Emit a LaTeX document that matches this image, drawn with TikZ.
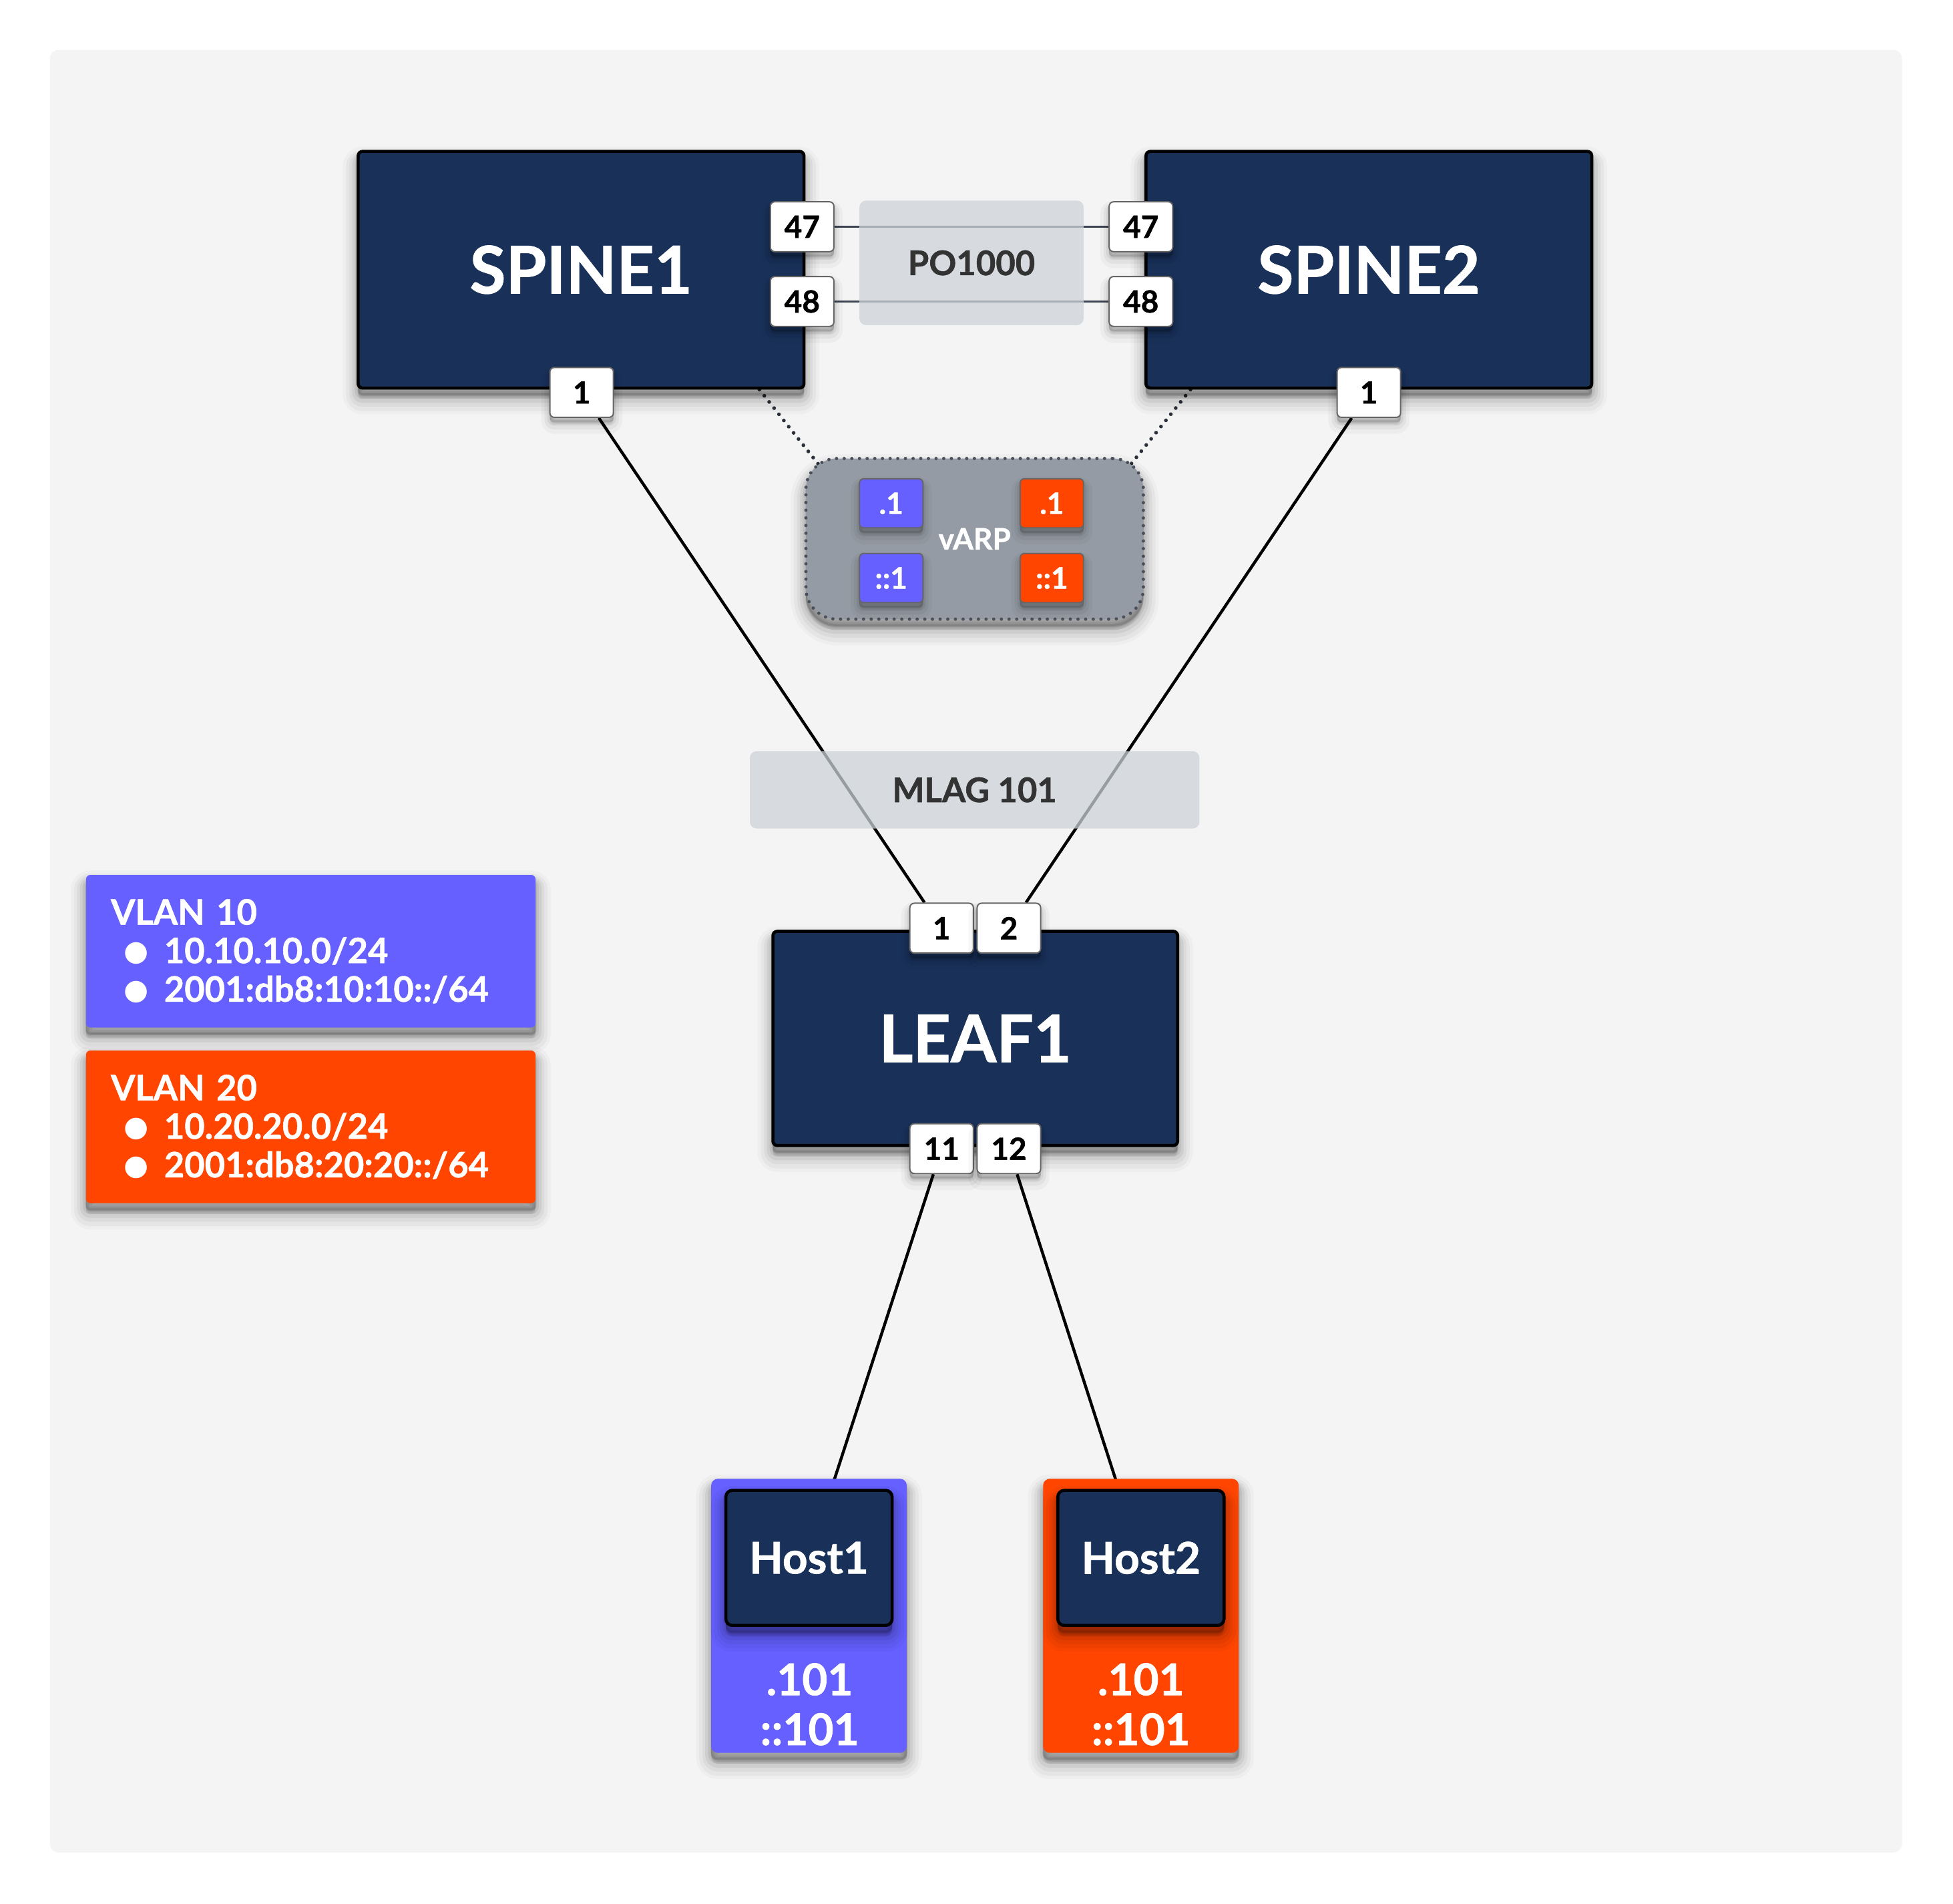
\documentclass[tikz,border=0pt]{standalone}
\usepackage{fontspec}
\setmainfont{Lato}[BoldFeatures={FakeBold=1}]
\newfontfamily\bulletfont{DejaVu Sans}
\usetikzlibrary{positioning,shadows}

\definecolor{navy}{HTML}{193159}
\definecolor{vlanblue}{HTML}{6560FF}
\definecolor{vlanred}{HTML}{FF4500}
\definecolor{paperbg}{HTML}{F4F4F4}
\definecolor{lagfill}{HTML}{CDD3D9}
\definecolor{varpgray}{HTML}{959BA4}
\definecolor{polinegray}{HTML}{3B4350}
\definecolor{labelgray}{HTML}{333333}
\definecolor{dotgray}{HTML}{4A505A}
\definecolor{tapgray}{HTML}{2A303A}
\definecolor{edgegray}{HTML}{666666}

\pgfdeclarelayer{paperlayer}
\pgfdeclarelayer{linklayer}
\pgfsetlayers{paperlayer,linklayer,main}

\newcommand{\vbul}{\hspace*{6pt}\raisebox{1pt}{\bulletfont\fontsize{13}{13}\selectfont ●}\hspace{7pt}}

\tikzset{
	shadowstep/.style n args={3}{general shadow={shadow xshift=0pt, shadow yshift=#3, solid, fill=black, draw=black, line width=#1, opacity=#2}},
	softshadow/.style={shadowstep={14pt}{0.025}{-5pt}, shadowstep={11pt}{0.035}{-5pt}, shadowstep={8pt}{0.045}{-4.5pt}, shadowstep={5.5pt}{0.055}{-4pt}, shadowstep={3pt}{0.065}{-3.5pt}, shadowstep={1pt}{0.075}{-3pt}},
	smallshadow/.style={shadowstep={8pt}{0.03}{-3.5pt}, shadowstep={5pt}{0.045}{-3pt}, shadowstep={2.5pt}{0.06}{-2.5pt}, shadowstep={0.5pt}{0.07}{-2pt}},
	switch/.style={rectangle, rounded corners=2pt, draw=black, line width=1.4pt, fill=navy, text=white, font=\fontsize{30}{36}\selectfont\bfseries, softshadow},
	port/.style={rectangle, rounded corners=2pt, draw=edgegray, line width=0.6pt, fill=white, text=black, font=\fontsize{14}{16}\selectfont\bfseries, minimum width=1.02cm, minimum height=0.8cm, inner sep=0pt, smallshadow},
	lag/.style={rectangle, rounded corners=3pt, fill=lagfill, fill opacity=0.74, text opacity=1, text=labelgray, font=\fontsize{15.5}{18}\selectfont\bfseries, inner sep=0pt},
	varpbox/.style={rectangle, rounded corners=0.5cm, fill=varpgray, draw=dotgray, line width=1.5pt, dash pattern=on 0pt off 3.5pt, line cap=round, text=white, font=\fontsize{13.5}{16}\selectfont\bfseries, softshadow},
	gw/.style={rectangle, rounded corners=2pt, draw=edgegray, line width=0.6pt, text=white, font=\fontsize{13.5}{16}\selectfont\bfseries, minimum width=1.02cm, minimum height=0.79cm, inner sep=0pt, smallshadow},
	gwblue/.style={gw, fill=vlanblue},
	gwred/.style={gw, fill=vlanred},
	hostbox/.style={rectangle, rounded corners=3pt, minimum width=3.14cm, minimum height=4.4cm, inner sep=0pt, softshadow},
	hostsw/.style={switch, rounded corners=3pt, font=\fontsize{20}{24}\selectfont\bfseries, minimum width=2.67cm, minimum height=2.17cm, inner sep=0pt},
	hostip/.style={text=white, font=\fontsize{20}{22.8}\selectfont\bfseries, align=center, inner sep=0pt},
	legend/.style={rectangle, rounded corners=2pt, text=white, font=\fontsize{16}{17.6}\selectfont\bfseries, align=left, text width=6.42cm, inner xsep=0.4cm, minimum height=2.45cm, softshadow},
	link/.style={draw=black, line width=1.35pt},
	polink/.style={draw=polinegray, line width=1.1pt},
	tap/.style={draw=tapgray, line width=1.7pt, dash pattern=on 0pt off 3.6pt, line cap=round}
}

\begin{document}
\begin{tikzpicture}[x=0.02cm, y=-0.02cm]
	\begin{pgfonlayer}{paperlayer}
		\fill[white] (0,0) rectangle (1568,1528);
		\fill[paperbg, rounded corners=4pt] (40,40) rectangle (1527,1487);
	\end{pgfonlayer}
	\useasboundingbox (0,0) rectangle (1568,1528);

	\node 	(spine1)	at	(466.5,216.5) 	[switch, minimum width=7.16cm, minimum height=3.8cm]{SPINE1};
	\node 	(spine2)	at	(1099,216.5) 	[switch, minimum width=7.16cm, minimum height=3.8cm]{SPINE2};
	\node 	(leaf1)		at	(783,833.5) 	[switch, minimum width=6.5cm, minimum height=3.44cm]{LEAF1};

	\node 	(po1000)	at	(780,211) 	[lag, minimum width=3.6cm, minimum height=2cm]{PO1000};
	\node 	(mlag101)	at	(782.5,634) 	[lag, minimum width=7.22cm, minimum height=1.24cm]{MLAG 101};

	\node 	(s1p47)		at	(644,182) 	[port]{47};
	\node 	(s1p48)		at	(644,242) 	[port]{48};
	\node 	(s1p1)		at	(467,315) 	[port]{1};

	\node 	(s2p47)		at	(916,182) 	[port]{47};
	\node 	(s2p48)		at	(916,242) 	[port]{48};
	\node 	(s2p1)		at	(1099,315) 	[port]{1};

	\node 	(l1p1)		at	(756,745) 	[port]{1};
	\node 	(l1p2)		at	(810,745) 	[port]{2};
	\node 	(l1p11)		at	(756,922) 	[port]{11};
	\node 	(l1p12)		at	(810,922) 	[port]{12};

	\node 	(varp)		at	(782.5,432.5) 	[varpbox, minimum width=5.42cm, minimum height=2.58cm]{vARP};
	\node 	(gw10v4)	at	(715.5,404) 	[gwblue]{.1};
	\node 	(gw10v6)	at	(715.5,464) 	[gwblue]{::1};
	\node 	(gw20v4)	at	(844.5,404) 	[gwred]{.1};
	\node 	(gw20v6)	at	(844.5,464) 	[gwred]{::1};

	\node 	(vlan10)	at	(249.5,763.5) 	[legend, fill=vlanblue]{VLAN 10\\\vbul 10.10.10.0/24\\\vbul 2001:db8:10:10::/64};
	\node 	(vlan20)	at	(249.5,904.5) 	[legend, fill=vlanred]{VLAN 20\\\vbul 10.20.20.0/24\\\vbul 2001:db8:20:20::/64};

	\node 	(host1box)	at	(649.5,1297) 	[hostbox, fill=vlanblue]{};
	\node 	(host1)		at	(649.5,1250.5) 	[hostsw]{Host1};
	\node 	(host1ip)	at	(650,1368) 	[hostip]{.101\\::101};

	\node 	(host2box)	at	(916,1297) 	[hostbox, fill=vlanred]{};
	\node 	(host2)		at	(916,1250.5) 	[hostsw]{Host2};
	\node 	(host2ip)	at	(916,1368) 	[hostip]{.101\\::101};

	\begin{pgfonlayer}{linklayer}
		\draw[polink] 	(s1p47) 	-- 	(s2p47);
		\draw[polink] 	(s1p48) 	-- 	(s2p48);

		\draw[link] 	(s1p1) 		-- 	(l1p1);
		\draw[link] 	(s2p1) 		-- 	(l1p2);

		\draw[link] 	(l1p11) 	-- 	(host1);
		\draw[link] 	(l1p12) 	-- 	(host2);

		\draw[tap] 	([xshift=-0.74cm]spine1.south east) 	-- 	([shift={(0.26cm,-0.16cm)}]varp.north west);
		\draw[tap] 	([xshift=0.74cm]spine2.south west) 	-- 	([shift={(-0.26cm,-0.16cm)}]varp.north east);
	\end{pgfonlayer}
\end{tikzpicture}
\end{document}
